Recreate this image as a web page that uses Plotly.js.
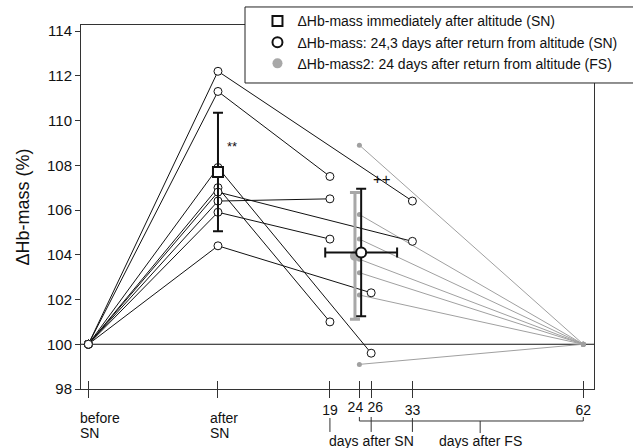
<!DOCTYPE html>
<html>
<head>
<meta charset="utf-8">
<script src="https://cdn.plot.ly/plotly-3.0.1.min.js"></script>
<style>html,body{margin:0;padding:0;background:#fff;}#chart{width:633px;height:448px;}</style>
</head>
<body>
<div id="chart"></div>
<script>
// ---- data ----
const stageDays = [-22, 0];                 // "before SN", "after SN"
const stageTop = ['before', 'after'];
const stageBottom = ['SN', 'SN'];
const followDays = [19, 24, 26, 33, 62];    // numeric tick labels (days)
const baseline = 100;

// individual subjects, SN camp
const snAfter     = [112.2, 111.3, 107.9, 107.0, 106.8, 106.4, 105.9, 104.4];
const snFollowDay = [33, 19, 26, 19, 33, 19, 19, 26];
const snFollow    = [106.4, 107.5, 99.6, 101.0, 104.6, 106.5, 104.7, 102.3];

// individual subjects, FS camp (24 days after FS -> 62 days)
const fsDay = 24;
const fsEndDay = 62;
const fsValues = [108.9, 105.8, 104.7, 103.8, 103.2, 102.2, 99.1];

// group means and SDs
const meanAfterDay = [0];     const meanAfter = [107.7];   const sdAfter = [2.65];
const meanFollowDay = [24.3]; const meanFollow = [104.1];  const sdFollow = [2.85]; const sdFollowDay = [6.1];
const meanFsDay = [23.25];    const meanFs = [103.95];     const sdFs = [2.83];

const yTickVals = [98, 100, 102, 104, 106, 108, 110, 112, 114];
const legendNames = [
  '\u0394Hb-mass immediately after altitude (SN)',
  '\u0394Hb-mass: 24,3 days after return from altitude (SN)',
  '\u0394Hb-mass2: 24 days after return from altitude (FS)'
];
const bracketMidDay = 44.5;

// ---- traces ----
const traces = [];
fsValues.forEach(v => {
  traces.push({
    x: [fsDay, fsEndDay], y: [v, baseline], mode: 'lines+markers', showlegend: false,
    line: {color: '#a0a0a0', width: 1}, marker: {color: '#a0a0a0', size: 5}, hoverinfo: 'skip'
  });
});
snAfter.forEach((v, i) => {
  traces.push({
    x: [stageDays[0], stageDays[1], snFollowDay[i]], y: [baseline, v, snFollow[i]],
    mode: 'lines+markers', showlegend: false,
    line: {color: '#111', width: 1},
    marker: {symbol: 'circle', size: 8, color: '#fff', line: {color: '#111', width: 1}}, hoverinfo: 'skip'
  });
});
traces.push({
  x: meanFsDay, y: meanFs, mode: 'markers', name: legendNames[2], legendrank: 3,
  marker: {color: '#a8a8a8', size: 10},
  error_y: {type: 'data', array: sdFs, color: '#a8a8a8', thickness: 3, width: 5}
});
traces.push({
  x: meanAfterDay, y: meanAfter, mode: 'markers', name: legendNames[0], legendrank: 1,
  marker: {symbol: 'square', size: 10, color: '#fff', line: {color: '#111', width: 2}},
  error_y: {type: 'data', array: sdAfter, color: '#111', thickness: 2, width: 5}
});
traces.push({
  x: meanFollowDay, y: meanFollow, mode: 'markers', name: legendNames[1], legendrank: 2,
  marker: {symbol: 'circle', size: 10, color: '#fff', line: {color: '#111', width: 2}},
  error_y: {type: 'data', array: sdFollow, color: '#111', thickness: 2, width: 5},
  error_x: {type: 'data', array: sdFollowDay, color: '#111', thickness: 2, width: 5}
});
traces.push({x: [], y: [], xaxis: 'x2', showlegend: false, hoverinfo: 'skip'});
traces.push({x: [], y: [], xaxis: 'x3', showlegend: false, hoverinfo: 'skip'});

// ---- layout ----
const xRange = [-23.25, 63.82];
const allTickVals = stageDays.concat(followDays);
const leftDay = followDays[1], rightDay = followDays[2];   // the two crowded labels (24, 26)
const mainText = allTickVals.map(d => (stageDays.includes(d) || d === leftDay || d === rightDay) ? '' : String(d));
const rightText = allTickVals.map(d => d === rightDay ? String(d) : '');
const font = 'Liberation Sans, Arial, Helvetica, sans-serif';
const ink = '#333';
const txt = (size) => ({size: size, family: font, color: '#111'});

const shapes = [
  {type: 'line', xref: 'paper', x0: 0, x1: 1, yref: 'y', y0: baseline, y1: baseline,
   line: {color: '#111', width: 1}, layer: 'below'},
  // legend box (extends past the right edge)
  {type: 'rect', xref: 'paper', yref: 'paper', x0: 0.3197, x1: 1.3, y0: 0.8407, y1: 1.0495,
   fillcolor: '#fff', line: {color: '#222', width: 1}, layer: 'above'},
  // bracket for "days after FS"
  {type: 'line', xref: 'x', yref: 'paper', x0: followDays[1], x1: followDays[4], y0: -0.0879, y1: -0.0879, line: {color: ink, width: 1}},
  {type: 'line', xref: 'x', yref: 'paper', x0: followDays[1], x1: followDays[1], y0: -0.0769, y1: -0.0879, line: {color: ink, width: 1}},
  {type: 'line', xref: 'x', yref: 'paper', x0: followDays[4], x1: followDays[4], y0: -0.0769, y1: -0.0879, line: {color: ink, width: 1}},
  {type: 'line', xref: 'x', yref: 'paper', x0: bracketMidDay, x1: bracketMidDay, y0: -0.0879, y1: -0.121, line: {color: ink, width: 1}},
  // pointers for "days after SN"
  {type: 'line', xref: 'x', yref: 'paper', x0: followDays[0], x1: followDays[0], y0: -0.0797, y1: -0.118, line: {color: ink, width: 1}},
  {type: 'line', xref: 'x', yref: 'paper', x0: followDays[2], x1: followDays[2], y0: -0.0769, y1: -0.118, line: {color: ink, width: 1}},
  {type: 'line', xref: 'x', yref: 'paper', x0: followDays[3], x1: followDays[3], y0: -0.0797, y1: -0.118, line: {color: ink, width: 1}}
];

const annotations = [];
stageDays.forEach((d, i) => {
  annotations.push({xref: 'x', yref: 'paper', x: d, y: -0.0797, xshift: -10, xanchor: 'left', yanchor: 'middle',
    text: stageTop[i], showarrow: false, font: txt(14)});
  annotations.push({xref: 'x', yref: 'paper', x: d, y: -0.1209, xshift: -10, xanchor: 'left', yanchor: 'middle',
    text: stageBottom[i], showarrow: false, font: txt(14)});
});
annotations.push(
  {xref: 'x', yref: 'paper', x: followDays[2], y: -0.143, xanchor: 'center', yanchor: 'middle',
   text: 'days after SN', showarrow: false, font: txt(14)},
  {xref: 'x', yref: 'paper', x: bracketMidDay, y: -0.143, xanchor: 'center', yanchor: 'middle',
   text: 'days after FS', showarrow: false, font: txt(14)},
  {xref: 'x', yref: 'y', x: meanAfterDay[0], y: 108.85, xshift: 7, xanchor: 'left', yanchor: 'middle',
   text: '**', showarrow: false, font: txt(13)},
  {xref: 'x', yref: 'y', x: meanFollowDay[0], y: 107.4, xshift: 10, xanchor: 'left', yanchor: 'middle',
   text: '++', showarrow: false, font: txt(15)}
);

const commonX = {range: xRange, tickmode: 'array', tickangle: 0, showgrid: false, zeroline: false,
                 fixedrange: true, tickfont: txt(14), tickwidth: 1, tickcolor: ink};

const layout = {
  width: 633, height: 448,
  margin: {l: 81, r: 39, t: 25, b: 59, pad: 0, autoexpand: false},
  paper_bgcolor: '#fff', plot_bgcolor: '#fff',
  font: {family: font, color: '#111'},
  showlegend: true,
  legend: {x: 0.344, xanchor: 'left', y: 1.054, yanchor: 'top', bgcolor: 'rgba(0,0,0,0)', borderwidth: 0,
           font: txt(14), tracegroupgap: 0, itemwidth: 30},
  xaxis: Object.assign({}, commonX, {tickvals: allTickVals, ticktext: mainText,
          ticks: 'outside', ticklen: 8, showline: true, linecolor: ink, linewidth: 1, mirror: true}),
  xaxis2: Object.assign({}, commonX, {overlaying: 'x', side: 'bottom', tickvals: allTickVals, ticktext: rightText,
           ticks: 'inside', ticklen: 8, showline: false, ticklabelshift: 4, ticklabelstandoff: 8}),
  xaxis3: Object.assign({}, commonX, {overlaying: 'x', side: 'bottom', tickvals: [leftDay], ticktext: [String(leftDay)],
           ticks: '', showline: false, ticklabelshift: -4, ticklabelstandoff: 8}),
  yaxis: {range: [98, 114.27], tickmode: 'array', tickvals: yTickVals, ticktext: yTickVals.map(String),
          ticks: 'outside', ticklen: 5, tickwidth: 1, tickcolor: ink, showline: true, linecolor: ink, linewidth: 1,
          mirror: true, showgrid: false, zeroline: false, tickfont: txt(15),
          title: {text: '\u0394Hb-mass (%)', font: txt(18), standoff: 12}, fixedrange: true},
  shapes: shapes,
  annotations: annotations
};

Plotly.newPlot('chart', traces, layout, {displayModeBar: false, staticPlot: true});
</script>
</body>
</html>
